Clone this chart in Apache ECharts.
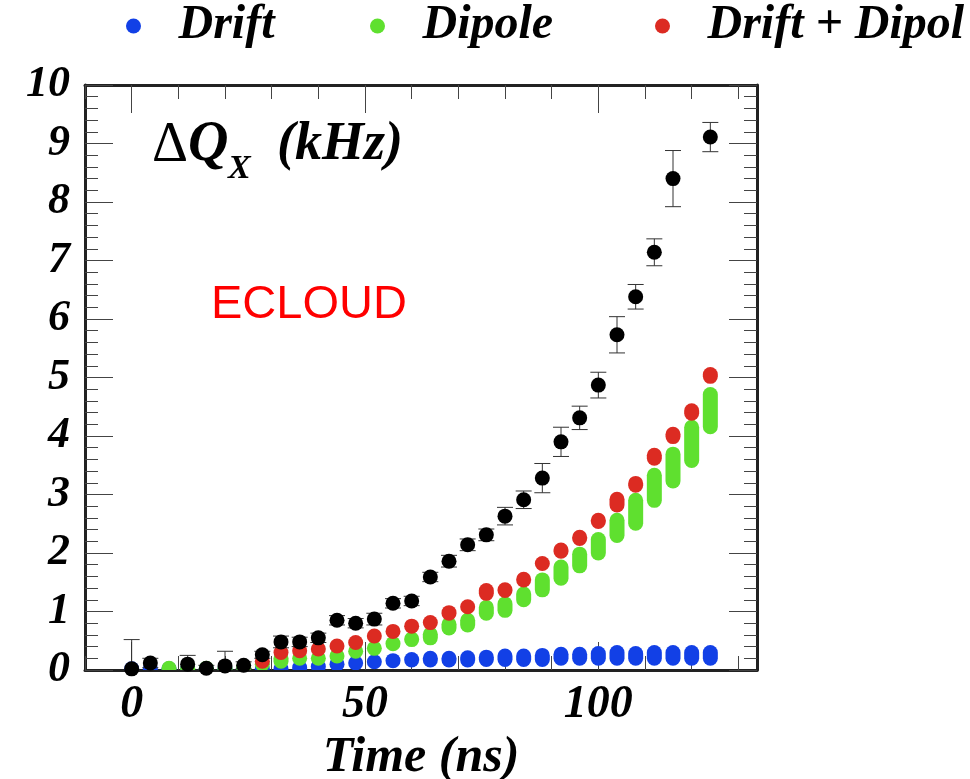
<!DOCTYPE html>
<html>
<head>
<meta charset="utf-8">
<script src="https://cdn.jsdelivr.net/npm/echarts@6/dist/echarts.min.js"></script>
<style>
  html, body { margin: 0; padding: 0; background: #fff; }
  #deltaQChart { width: 970px; height: 779px; }
</style>
</head>
<body>
<div id="deltaQChart"></div>
<script>
// time of bunch passage (ns)
var timeNs = [0, 4, 8, 12, 16, 20, 24, 28, 32, 36, 40, 44, 48, 52, 56, 60,
  64, 68, 72, 76, 80, 84, 88, 92, 96, 100, 104, 108, 112, 116, 120, 124];

// measured tune shift (black points) and its error
var measured = [0.02, 0.12, null, 0.10, 0.03, 0.07, 0.08, 0.26, 0.48, 0.48, 0.55, 0.85, 0.80, 0.87, 1.14, 1.18,
  1.59, 1.86, 2.14, 2.31, 2.63, 2.91, 3.28, 3.90, 4.31, 4.87, 5.73, 6.38, 7.14, 8.40, null, 9.11];
var measuredErr = [0.50, 0.08, 0, 0.15, 0.05, 0.25, 0.06, 0.06, 0.10, 0.08, 0.08, 0.08, 0.08, 0.10, 0.08, 0.08,
  0.08, 0.10, 0.10, 0.10, 0.15, 0.15, 0.25, 0.25, 0.20, 0.22, 0.31, 0.21, 0.23, 0.48, 0, 0.25];

// ECLOUD simulations: lowest and highest point of each stack
var driftLo = [0.02, 0.02, 0.02, 0.02, 0.02, 0.02, 0.02, 0.02, 0.02, 0.04, 0.06, 0.10, 0.12, 0.14, 0.16, 0.17,
  0.17, 0.17, 0.17, 0.18, 0.18, 0.18, 0.18, 0.20, 0.20, 0.20, 0.20, 0.20, 0.20, 0.20, 0.20, 0.20];
var driftHi = [0.02, 0.02, 0.02, 0.02, 0.02, 0.02, 0.02, 0.02, 0.02, 0.04, 0.06, 0.10, 0.12, 0.14, 0.16, 0.18,
  0.20, 0.20, 0.21, 0.22, 0.24, 0.24, 0.25, 0.27, 0.27, 0.28, 0.30, 0.28, 0.30, 0.30, 0.30, 0.30];
var dipoleLo = [null, null, 0.03, 0.03, 0.03, 0.03, 0.03, 0.10, 0.15, 0.20, 0.20, 0.24, 0.32, 0.37, 0.45, 0.52,
  0.55, 0.72, 0.77, 0.97, 1.02, 1.20, 1.37, 1.57, 1.78, 2.00, 2.30, 2.51, 2.90, 3.23, 3.58, 4.16];
var dipoleHi = [null, null, 0.03, 0.03, 0.03, 0.03, 0.05, 0.10, 0.20, 0.20, 0.20, 0.24, 0.32, 0.37, 0.45, 0.53,
  0.61, 0.78, 0.85, 1.07, 1.13, 1.30, 1.54, 1.76, 1.98, 2.23, 2.56, 2.90, 3.33, 3.69, 4.15, 4.71];
var bothLo = [null, null, null, null, null, null, null, 0.15, 0.30, 0.33, 0.36, 0.41, 0.47, 0.58, 0.66, 0.75,
  0.81, 0.97, 1.08, 1.31, 1.36, 1.54, 1.82, 2.03, 2.25, 2.54, 2.82, 3.16, 3.62, 3.99, 4.39, 5.02];
var bothHi = [null, null, null, null, null, null, null, 0.15, 0.30, 0.33, 0.36, 0.41, 0.47, 0.58, 0.66, 0.75,
  0.81, 0.98, 1.08, 1.36, 1.37, 1.55, 1.82, 2.05, 2.27, 2.56, 2.92, 3.19, 3.67, 4.03, 4.43, 5.05];

// axis ticks
var xMajorTicks = [0, 50, 100];
var xMinorTicks = [-10, 0, 10, 20, 30, 40, 50, 60, 70, 80, 90, 100, 110, 120, 130];
var yMajorTicks = [0, 1, 2, 3, 4, 5, 6, 7, 8, 9, 10];
var yMinorTicks = [];
for (var k = 1; k < 50; k++) {
  if (k % 5 !== 0) yMinorTicks.push(k / 5);
}

var serifFont = "'Liberation Serif', 'DejaVu Serif', serif";

function stackRows(lo, hi) {
  var rows = [];
  for (var i = 0; i < timeNs.length; i++) {
    if (lo[i] == null) continue;
    rows.push([timeNs[i], lo[i], hi[i]]);
  }
  return rows;
}

function measuredRows() {
  var rows = [];
  for (var i = 0; i < timeNs.length; i++) {
    if (measured[i] == null) continue;
    rows.push([timeNs[i], measured[i], measuredErr[i]]);
  }
  return rows;
}

// a stack of overlapping dots drawn as a rounded bar
function renderStack(params, api) {
  var lo = api.coord([api.value(0), api.value(1)]);
  var hi = api.coord([api.value(0), api.value(2)]);
  var r = 7.5;
  return {
    type: "rect",
    shape: { x: lo[0] - r, y: hi[1] - r, width: 2 * r, height: lo[1] - hi[1] + 2 * r, r: r },
    style: { fill: api.visual("color") }
  };
}

function renderErr(params, api) {
  var e = api.value(2);
  if (!e) return null;
  var top = api.coord([api.value(0), api.value(1) + e]);
  var bot = api.coord([api.value(0), api.value(1) - e]);
  var st = { stroke: "#333", lineWidth: 1 };
  return {
    type: "group",
    children: [
      { type: "line", shape: { x1: top[0], y1: top[1], x2: bot[0], y2: bot[1] }, style: st },
      { type: "line", shape: { x1: top[0] - 8, y1: top[1], x2: top[0] + 8, y2: top[1] }, style: st },
      { type: "line", shape: { x1: bot[0] - 8, y1: bot[1], x2: bot[0] + 8, y2: bot[1] }, style: st }
    ]
  };
}

function xAxisDef(pos, ticks, len, showLabel, showLine) {
  return {
    type: "value", position: pos, min: -10, max: 134,
    splitLine: { show: false },
    axisLine: { show: showLine, onZero: false, lineStyle: { color: "#222", width: 3 } },
    axisTick: { show: true, inside: true, length: len, customValues: ticks, lineStyle: { color: "#444", width: 1 } },
    axisLabel: showLabel ? {
      customValues: xMajorTicks, margin: 12, color: "#000",
      fontFamily: serifFont, fontStyle: "italic", fontWeight: "bold", fontSize: 46
    } : { show: false },
    name: showLabel ? "Time (ns)" : "",
    nameLocation: "middle", nameGap: 57,
    nameTextStyle: { color: "#000", fontFamily: serifFont, fontStyle: "italic", fontWeight: "bold", fontSize: 50 }
  };
}

function yAxisDef(pos, ticks, len, showLabel, showLine) {
  return {
    type: "value", position: pos, min: 0, max: 10,
    splitLine: { show: false },
    axisLine: { show: showLine, onZero: false, lineStyle: { color: "#222", width: 3 } },
    axisTick: { show: true, inside: true, length: len, customValues: ticks, lineStyle: { color: "#444", width: 1 } },
    axisLabel: showLabel ? {
      customValues: yMajorTicks, margin: 15, color: "#000",
      fontFamily: serifFont, fontStyle: "italic", fontWeight: "bold", fontSize: 44
    } : { show: false }
  };
}

// one legend box per entry so each can sit where the original has it
function legendDef(entry, left) {
  return {
    data: [entry], left: left, top: 2, padding: 0,
    icon: "circle", itemWidth: 80, itemHeight: 15,
    textStyle: { color: "#000", fontFamily: serifFont, fontStyle: "italic", fontWeight: "bold", fontSize: 48 }
  };
}

var myChart = echarts.init(document.getElementById("deltaQChart"));
myChart.setOption({
  animation: false,
  backgroundColor: "#fff",
  grid: { left: 85, top: 85, right: 213, bottom: 109, outerBoundsMode: "none" },
  legend: [
    legendDef("Drift", 126),
    legendDef("Dipole", 370),
    // the last entry runs off the right edge of the picture
    legendDef({ name: "Drift + Dipole", textStyle: { width: 262, overflow: "truncate", ellipsis: "" } }, 655)
  ],
  xAxis: [
    xAxisDef("bottom", xMajorTicks, 28, true, true),
    xAxisDef("bottom", xMinorTicks, 14, false, false),
    xAxisDef("top", xMajorTicks, 28, false, true),
    xAxisDef("top", xMinorTicks, 14, false, false)
  ],
  yAxis: [
    yAxisDef("left", yMajorTicks, 28, true, true),
    yAxisDef("left", yMinorTicks, 13, false, false),
    yAxisDef("right", yMajorTicks, 28, false, true),
    yAxisDef("right", yMinorTicks, 13, false, false)
  ],
  graphic: [
    {
      type: "text", left: 152, top: 118, silent: true,
      style: {
        text: "{d|Δ}{q|Q}",
        rich: {
          d: { fontFamily: serifFont, fontSize: 56, fill: "#000" },
          q: { fontFamily: serifFont, fontStyle: "italic", fontWeight: "bold", fontSize: 56, fill: "#000" }
        }
      }
    },
    {
      type: "text", left: 228, top: 152, silent: true,
      style: { text: "X", fontFamily: serifFont, fontStyle: "italic", fontWeight: "bold", fontSize: 34, fill: "#000" }
    },
    {
      type: "text", left: 277, top: 118, silent: true,
      style: { text: "(kHz)", fontFamily: serifFont, fontStyle: "italic", fontWeight: "bold", fontSize: 54, fill: "#000" }
    },
    {
      type: "text", left: 211, top: 282, silent: true,
      style: { text: "ECLOUD", fontFamily: "'Liberation Sans', Arial, sans-serif", fontSize: 47, fill: "#ff0000" }
    }
  ],
  series: [
    {
      name: "Drift", type: "custom", clip: true,
      itemStyle: { color: "#1240e6" },
      encode: { x: 0, y: [1, 2] },
      renderItem: renderStack,
      data: stackRows(driftLo, driftHi)
    },
    {
      name: "Dipole", type: "custom", clip: true,
      itemStyle: { color: "#5fe02f" },
      encode: { x: 0, y: [1, 2] },
      renderItem: renderStack,
      data: stackRows(dipoleLo, dipoleHi)
    },
    {
      name: "Drift + Dipole", type: "custom", clip: true,
      itemStyle: { color: "#dc2b22" },
      encode: { x: 0, y: [1, 2] },
      renderItem: renderStack,
      data: stackRows(bothLo, bothHi)
    },
    {
      name: "Measured err", type: "custom", clip: true,
      encode: { x: 0, y: 1 },
      renderItem: renderErr,
      data: measuredRows()
    },
    {
      name: "Measured", type: "scatter", clip: true,
      symbolSize: 15,
      itemStyle: { color: "#000", opacity: 1 },
      data: measuredRows().map(function (r) { return [r[0], r[1]]; })
    }
  ]
});
window.onresize = function () {
  myChart.resize();
};
</script>
</body>
</html>
